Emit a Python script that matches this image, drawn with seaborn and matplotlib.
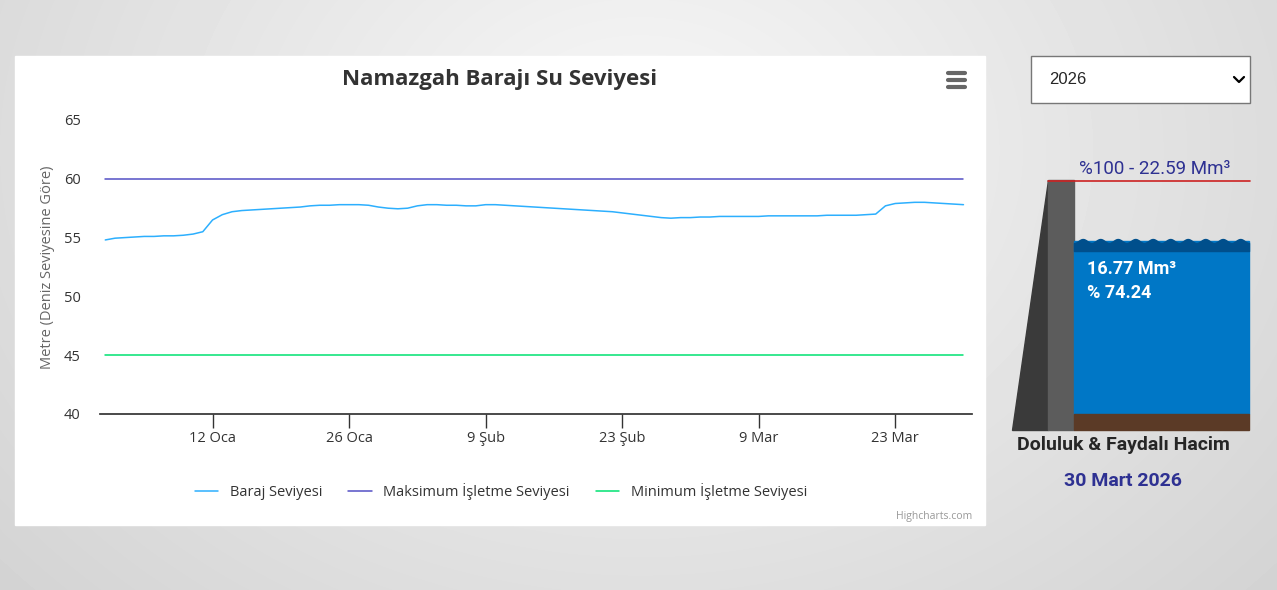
import numpy as np
import pandas as pd
import seaborn as sns
import matplotlib.pyplot as plt
from matplotlib.patches import Rectangle, Polygon

# daily reservoir level, 1 Jan - 30 Mar 2026 (m)
level = [54.8, 54.95, 55.0, 55.05, 55.1, 55.1, 55.15, 55.15, 55.2, 55.3,
         55.5, 56.5, 56.95, 57.2, 57.3, 57.35, 57.4, 57.45, 57.5, 57.55,
         57.6, 57.7, 57.75, 57.75, 57.8, 57.8, 57.8, 57.75, 57.6, 57.5,
         57.45, 57.5, 57.7, 57.8, 57.8, 57.75, 57.75, 57.7, 57.7, 57.8,
         57.8, 57.75, 57.7, 57.65, 57.6, 57.55, 57.5, 57.45, 57.4, 57.35,
         57.3, 57.25, 57.2, 57.1, 57.0, 56.9, 56.8, 56.7, 56.65, 56.7,
         56.7, 56.75, 56.75, 56.8, 56.8, 56.8, 56.8, 56.8, 56.85, 56.85,
         56.85, 56.85, 56.85, 56.85, 56.9, 56.9, 56.9, 56.9, 56.95, 57.0,
         57.7, 57.9, 57.95, 58.0, 58.0, 57.95, 57.9, 57.85, 57.8]
dates = pd.date_range('2026-01-01', periods=len(level), freq='D')
max_level = 60
min_level = 45
tick_dates = pd.to_datetime(['2026-01-12', '2026-01-26', '2026-02-09', '2026-02-23',
                             '2026-03-09', '2026-03-23'])
tick_labels = ['12 Oca', '26 Oca', '9 Şub', '23 Şub', '9 Mar', '23 Mar']
fill_pct = 74.24
fill_vol = 16.77
full_vol = 22.59

sns.set_theme(style='white')
plt.rcParams['font.family'] = ['Open Sans', 'DejaVu Sans']

W, H = 1277, 590
fig = plt.figure(figsize=(W / 100, H / 100), dpi=100)

# background + decorations in pixel coords
bg = fig.add_axes([0, 0, 1, 1])
bg.set_xlim(0, W)
bg.set_ylim(H, 0)
bg.axis('off')
yy, xx = np.mgrid[0:H, 0:W]
r = np.sqrt(((xx - 640) / 900) ** 2 + ((yy - 150) / 700) ** 2)
bg.imshow(0.97 - 0.15 * np.clip(r, 0, 1), cmap='gray', vmin=0, vmax=1,
          extent=[0, W, H, 0], aspect='auto')
bg.add_patch(Rectangle((15, 56), 970, 469, color='white'))

# dropdown
bg.add_patch(Rectangle((1031, 56), 219, 47, facecolor='white', edgecolor='#777777', lw=1))
bg.text(1049, 80, '2026', fontsize=12, va='center', family=['Liberation Sans'])
bg.plot([1234, 1239, 1244], [77, 82, 77], color='black', lw=1.6)

# dam graphic
bg.add_patch(Polygon([[1012, 430], [1048, 430], [1048, 180]], color='#3a3a3a'))
bg.add_patch(Rectangle((1048, 180), 26, 250, color='#5c5c5c'))
top = 414 - (414 - 181) * fill_pct / 100
bg.add_patch(Rectangle((1074, top), 175, 414 - top, color='#0077c6'))
wx = np.linspace(1074, 1249, 300)
bg.fill_between(wx, top + 2 * np.cos((wx - 1074) / 175 * 2 * np.pi * 10), top + 10,
                color='#004f8c')
bg.add_patch(Rectangle((1074, 414), 175, 16, color='#5b3a26'))
bg.plot([1048, 1250], [181, 181], color='#cc2222', lw=1.2)
bg.text(1155, 169, f'%100 - {full_vol:.2f} Mm³', fontsize=13.5, color='#2e3192',
        ha='center', va='center', family=['Roboto'])
bg.text(1087, 269, f'{fill_vol:.2f} Mm³', fontsize=13, color='white', fontweight='bold',
        va='center', family=['Roboto'])
bg.text(1087, 293, f'% {fill_pct:.2f}', fontsize=13, color='white', fontweight='bold',
        va='center', family=['Roboto'])
bg.text(1123, 445, 'Doluluk & Faydalı Hacim', fontsize=14, fontweight='bold',
        ha='center', va='center', family=['Roboto'])
bg.text(1123, 481, '30 Mart 2026', fontsize=14, color='#2e3192', fontweight='bold',
        ha='center', va='center', family=['Roboto'])

# chart title, menu, credit
bg.text(500, 79, 'Namazgah Barajı Su Seviyesi', fontsize=16, fontweight='bold',
        color='#333333', ha='center', va='center')
for y in (73, 80, 87):
    bg.plot([948, 965], [y, y], color='#666666', lw=3, solid_capstyle='round')
bg.text(972, 516, 'Highcharts.com', fontsize=7.5, color='#999999', ha='right', va='center')

# main chart
ax = fig.add_axes([100 / W, (H - 414) / H, 872 / W, 294 / H])
ax.set_facecolor('none')
df = pd.DataFrame({'date': dates, 'level': level})
sns.lineplot(data=df, x='date', y='level', ax=ax, color='#2caffe', lw=1.1,
             label='Baraj Seviyesi')
sns.lineplot(x=dates, y=[max_level] * len(dates), ax=ax, color='#544fc5', lw=1.1,
             label='Maksimum İşletme Seviyesi')
sns.lineplot(x=dates, y=[min_level] * len(dates), ax=ax, color='#00e272', lw=1.1,
             label='Minimum İşletme Seviyesi')
ax.set_xlim(pd.Timestamp('2025-12-31 11:00'), pd.Timestamp('2026-03-30 21:00'))
ax.set_ylim(40, 65)
ax.set_yticks([40, 45, 50, 55, 60, 65])
ax.set_xticks(tick_dates)
ax.set_xticklabels(tick_labels)
ax.tick_params(axis='x', length=10, width=1, color='#333333', labelsize=10.5,
               labelcolor='#333333', pad=2, bottom=True, direction='out')
ax.tick_params(axis='y', length=0, labelsize=10.5, labelcolor='#333333', pad=14)
for s in ('top', 'right', 'left'):
    ax.spines[s].set_visible(False)
ax.spines['bottom'].set_color('#333333')
ax.set_xlabel('')
ax.set_ylabel('Metre (Deniz Seviyesine Göre)', fontsize=10.5, color='#666666', labelpad=6)
ax.legend(loc='upper center', bbox_to_anchor=(0.46, -0.19), ncol=3, frameon=False,
          fontsize=10.5, handlelength=1.6, columnspacing=1.8, labelcolor='#333333')

fig.savefig('out.png', dpi=100)
